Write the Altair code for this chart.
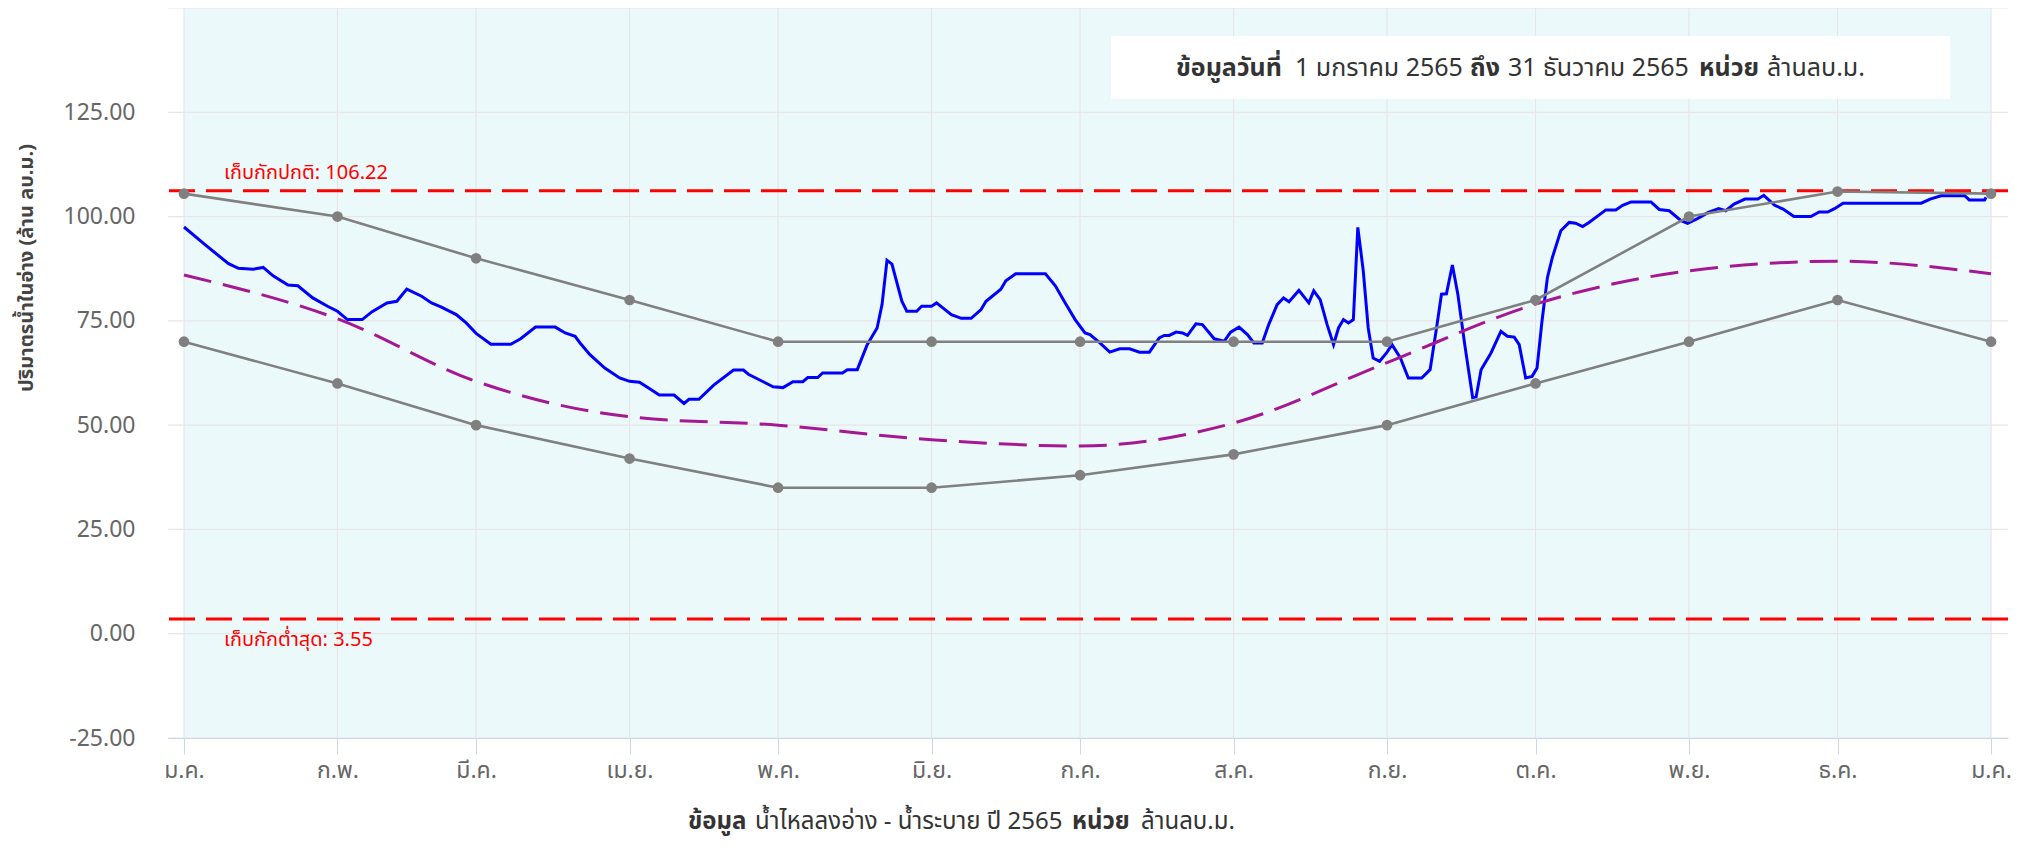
import altair as alt
import pandas as pd

# ---------------- data ----------------
MONTH_LABELS = ["ม.ค.", "ก.พ.", "มี.ค.", "เม.ย.", "พ.ค.", "มิ.ย.",
                "ก.ค.", "ส.ค.", "ก.ย.", "ต.ค.", "พ.ย.", "ธ.ค."]
month_dates = ["2022-01-01", "2022-02-01", "2022-03-01", "2022-04-01",
               "2022-05-01", "2022-06-01", "2022-07-01", "2022-08-01",
               "2022-09-01", "2022-10-01", "2022-11-01", "2022-12-01",
               "2023-01-01"]
upper_rule = [105.5, 100, 90, 80, 70, 70, 70, 70, 70, 80, 100, 106, 105.5]
lower_rule = [70, 60, 50, 42, 35, 35, 38, 43, 50, 60, 70, 80, 70]
avg_curve = [86, 75.5, 60.5, 52, 50, 46.5, 45, 50.5, 65, 79, 87, 89.3, 86.3]

# daily storage 2565 (day offset from 1 Jan, volume)
storage_days = [0, 4, 9, 11, 14, 16, 18, 21, 23, 26, 29, 31, 33, 36, 38, 41, 43,
                45, 48, 50, 52, 55, 57, 59, 62, 66, 68, 71, 75, 77, 79, 80, 82,
                85, 88, 90, 92, 94, 96, 99, 101, 102, 104, 107, 111, 113, 114,
                117, 119, 121, 123, 125, 126, 128, 129, 133, 134, 136, 138, 140,
                141, 142, 143, 145, 146, 148, 149, 151, 152, 155, 157, 159, 161,
                162, 165, 166, 168, 174, 176, 178, 180, 182, 183, 185, 187, 189,
                191, 193, 195, 197, 198, 199, 200.4, 201.7, 202.7, 204.4, 205.7,
                208.1, 210.1, 211.4, 213.1, 214.8, 216.1, 217.8, 219.1, 220.8,
                222.1, 223.2, 225.2, 227.2, 228.2, 229.5, 230.9, 232.2, 233.2,
                234.2, 235.2, 236.2, 237.1, 238.2, 239.2, 240.2, 241.5, 242.9,
                244, 245.7, 247.3, 250, 251.7, 253, 254, 255, 256.2, 257.3, 258.7,
                260.3, 261, 262, 264, 266, 267.3, 268.7, 269.7, 271, 272.3, 273.3,
                274.3, 275.4, 276.4, 278.1, 279.8, 281.1, 282.5, 283.8, 287.2,
                289.2, 290.6, 292.3, 296.3, 298, 300, 302.4, 303.7, 305.7, 307.9,
                310, 311.4, 313.1, 315.3, 317.9, 319.1, 321.3, 323, 325.2, 328.6,
                330.3, 332, 333.4, 335.1, 350.9, 352.7, 354.9, 359.7, 360.6, 363.7,
                364]
storage_values = [97.5, 93.5, 88.7, 87.6, 87.4, 87.8, 85.8, 83.6, 83.4, 80.5, 78.5,
                  77.3, 75.3, 75.3, 77.2, 79.3, 79.7, 82.6, 80.9, 79.3, 78.3, 76.5,
                  74.5, 72.0, 69.4, 69.4, 70.7, 73.5, 73.5, 72.1, 71.3, 69.7, 66.9,
                  63.7, 61.3, 60.5, 60.3, 58.8, 57.2, 57.2, 55.2, 56.2, 56.2, 59.6,
                  63.2, 63.2, 62.2, 60.4, 59.2, 59.0, 60.4, 60.4, 61.4, 61.4, 62.5,
                  62.5, 63.3, 63.3, 69.3, 73.3, 78.9, 89.5, 88.6, 79.7, 77.3, 77.3,
                  78.5, 78.5, 79.3, 76.5, 75.6, 75.6, 77.7, 79.7, 82.6, 84.6, 86.3,
                  86.3, 83.4, 79.3, 75.3, 72.1, 71.7, 69.7, 67.5, 68.3, 68.3, 67.5,
                  67.5, 70.9, 71.5, 71.5, 72.3, 72.1, 71.5, 74.3, 74.1, 70.7, 70.1,
                  72.3, 73.5, 71.7, 69.7, 69.7, 74.1, 78.9, 80.5, 79.6, 82.3, 79.3,
                  82.2, 80.1, 74.1, 69.3, 73.3, 75.3, 74.5, 75.3, 97.4, 87.0, 73.3,
                  66.1, 65.3, 67.3, 69.3, 66.1, 61.3, 61.3, 63.3, 73.3, 81.4, 81.5,
                  88.4, 81.4, 69.3, 56.6, 56.8, 63.3, 67.3, 72.5, 71.3, 71.1, 69.3,
                  61.3, 61.7, 63.7, 74.9, 85.4, 90.2, 96.6, 98.6, 98.4, 97.6, 98.6,
                  101.6, 101.6, 102.7, 103.5, 103.5, 101.7, 101.4, 99.0, 98.4, 99.5,
                  101.0, 101.9, 101.4, 103.0, 104.2, 104.2, 105.1, 102.7, 101.8,
                  100.0, 100.0, 101.1, 101.1, 101.9, 103.2, 103.2, 104.2, 105.0,
                  105.0, 104.0, 104.0, 104.6]

NORMAL_LEVEL = 106.22
MIN_LEVEL = 3.55
level_values = [NORMAL_LEVEL, MIN_LEVEL]
level_labels = ["เก็บกักปกติ: 106.22", "เก็บกักต่ำสุด: 3.55"]
Y_TICKS = [-25, 0, 25, 50, 75, 100, 125, 150]

# ---------------- helpers ----------------
DAY_MS = 86400000


def to_ms(s):
    return int(pd.Timestamp(s, tz="UTC").value // 10**6)


base_ms = to_ms("2022-01-01")
month_ms = [to_ms(d) for d in month_dates]

W, H = 1840, 730
FONT = "Tahoma, 'Noto Sans Thai', 'Noto Sans', 'DejaVu Sans', sans-serif"
x_dom = [base_ms - 3.23 * DAY_MS, month_ms[-1] + 3.43 * DAY_MS]

x_scale = alt.Scale(type="utc", domain=x_dom, nice=False)
y_scale = alt.Scale(domain=[-25, 150], nice=False, zero=False)

label_expr = "[" + ",".join("'%s'" % m for m in MONTH_LABELS) + "][utcmonth(datum.value)]"
x_axis = alt.Axis(values=month_ms, labelExpr=label_expr, title=None, grid=False,
                  domainColor="#ccd6eb", tickColor="#ccd6eb", tickSize=16,
                  labelColor="#666666", labelFontSize=23, labelFont=FONT,
                  labelPadding=5, labelFlush=False, labelOverlap=False,
                  zindex=1)
y_axis = alt.Axis(values=Y_TICKS, title=None, grid=False, domain=False, ticks=False,
                  labelColor="#666666", labelFontSize=23, labelFont=FONT,
                  labelPadding=33,
                  labelExpr="datum.value >= 150 ? '' : format(datum.value, '.2f')")


def X(field):
    return alt.X(field, type="temporal", scale=x_scale, axis=x_axis)


def Y(field):
    return alt.Y(field, type="quantitative", scale=y_scale, axis=y_axis)


months_df = pd.DataFrame({"date": month_ms, "upper": upper_rule,
                          "lower": lower_rule, "avg": avg_curve})
storage_df = pd.DataFrame({"date": [base_ms + d * DAY_MS for d in storage_days],
                           "value": storage_values})
band_df = pd.DataFrame({"start": [month_ms[0]], "end": [month_ms[-1]],
                        "lo": [Y_TICKS[0]], "hi": [Y_TICKS[-1]]})
hgrid_df = pd.DataFrame({"v": Y_TICKS})
vgrid_df = pd.DataFrame({"date": month_ms})
level_df = pd.DataFrame({"v": level_values, "label": level_labels})

band = alt.Chart(band_df).mark_rect(color="#ecf9fb").encode(
    x=X("start"), x2="end", y=Y("lo"), y2="hi")
hgrid = alt.Chart(hgrid_df).mark_rule(color="#e6e6e6", strokeWidth=1.2).encode(y=Y("v"))
vgrid = alt.Chart(vgrid_df).mark_rule(color="#e6e6e6", strokeWidth=1.2).encode(x=X("date"))

levels = alt.Chart(level_df).mark_rule(color="#ff0000", strokeWidth=3,
                                       strokeDash=[26, 11]).encode(y=Y("v"))

blue = alt.Chart(storage_df).mark_line(color="#0000ff", strokeWidth=3).encode(
    x=X("date"), y=Y("value"))
avg = alt.Chart(months_df).mark_line(color="#a51895", strokeWidth=3,
                                     strokeDash=[28, 12],
                                     interpolate="monotone").encode(
    x=X("date"), y=Y("avg"))
up_line = alt.Chart(months_df).mark_line(color="#808080", strokeWidth=2.6).encode(
    x=X("date"), y=Y("upper"))
up_pts = alt.Chart(months_df).mark_circle(color="#808080", size=115, opacity=1).encode(
    x=X("date"), y=Y("upper"))
lo_line = alt.Chart(months_df).mark_line(color="#808080", strokeWidth=2.6).encode(
    x=X("date"), y=Y("lower"))
lo_pts = alt.Chart(months_df).mark_circle(color="#808080", size=115, opacity=1).encode(
    x=X("date"), y=Y("lower"))

lab_hi = alt.Chart(level_df.iloc[[0]]).mark_text(
    color="#ff0000", fontSize=20, font=FONT, align="left", baseline="middle",
    dy=-18).encode(x=alt.value(56), y=Y("v"), text="label:N")
lab_lo = alt.Chart(level_df.iloc[[1]]).mark_text(
    color="#ff0000", fontSize=20, font=FONT, align="left", baseline="middle",
    dy=21).encode(x=alt.value(56), y=Y("v"), text="label:N")

one = pd.DataFrame({"k": [0]})


def txt(s, xpx, ypx, bold=False, size=25, color="#333333", angle=0, align="left"):
    return alt.Chart(one).mark_text(
        fontSize=size, font=FONT, color=color, align=align, baseline="middle",
        fontWeight="bold" if bold else "normal", angle=angle).encode(
        x=alt.value(xpx), y=alt.value(ypx), text=alt.value(s))


box = alt.Chart(one).mark_rect(color="white").encode(
    x=alt.value(943), x2=alt.value(1782), y=alt.value(28), y2=alt.value(91))

notes = [
    txt("ข้อมูลวันที่", 1008, 60, True),
    txt("1 มกราคม 2565", 1127, 60),
    txt("ถึง", 1302, 60, True),
    txt("31 ธันวาคม 2565", 1340, 60),
    txt("หน่วย", 1531, 60, True),
    txt("ล้านลบ.ม.", 1599, 60),
    txt("ข้อมูล", 520, 814, True, 24),
    txt("น้ำไหลลงอ่าง - น้ำระบาย ปี 2565", 587, 814, False, 24),
    txt("หน่วย", 904, 814, True, 24),
    txt("ล้านลบ.ม.", 973, 814, False, 24),
    txt("ปริมาตรน้ำในอ่าง (ล้าน ลบ.ม.)", -141, 260, True, 20, "#444444", 270, "center"),
]

chart = alt.layer(band, hgrid, vgrid, levels, blue, avg, up_line, lo_line,
                  up_pts, lo_pts, lab_hi, lab_lo, box, *notes).properties(
    width=W, height=H,
    autosize=alt.AutoSizeParams(type="none"),
    padding={"left": 160, "top": 0, "right": 8, "bottom": 112},
    background="white",
).configure_view(stroke=None)

chart.save("out.html", embed_options={"renderer": "svg", "actions": False})
